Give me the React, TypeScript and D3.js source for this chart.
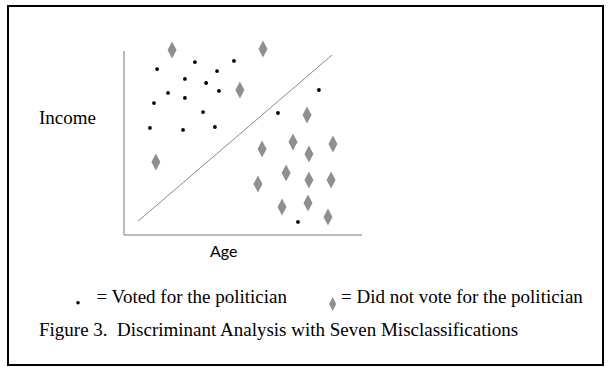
import React from "react";
import * as d3 from "d3";

// Voted for the politician (dots): [age, income]
const votedAge = [2.98, 4.62, 1.39, 3.91, 2.56, 3.45, 3.99, 1.85, 2.56, 1.26, 3.32, 1.09, 2.48, 3.82, 6.47, 8.19, 7.31];
const votedIncome = [9.40, 9.46, 9.02, 8.91, 8.48, 8.26, 7.83, 7.72, 7.45, 7.17, 6.68, 5.82, 5.71, 5.87, 6.63, 7.88, 0.71];

// Did not vote (diamonds): [age, income]
const notVotedAge = [2.02, 5.84, 4.87, 1.34, 7.69, 5.80, 7.10, 7.77, 8.78, 6.81, 5.63, 7.77, 8.70, 6.64, 7.73, 8.57];
const notVotedIncome = [10.05, 10.11, 7.88, 3.97, 6.52, 4.67, 5.05, 4.40, 4.95, 3.37, 2.77, 2.99, 2.99, 1.52, 1.74, 0.98];

// Discriminant line endpoints
const lineAge = [0.6, 8.74];
const lineIncome = [0.76, 9.78];

const xDomain = [0, 10];
const yDomain = [0, 10];

const xLabel = "Age";
const yLabel = "Income";
const legendVoted = "= Voted for the politician";
const legendNotVoted = "= Did not vote for the politician";
const caption = "Figure 3.  Discriminant Analysis with Seven Misclassifications";

const diamondPath = (w: number, h: number) => {
  const p = d3.path();
  p.moveTo(0, -h / 2);
  p.lineTo(w / 2, 0);
  p.lineTo(0, h / 2);
  p.lineTo(-w / 2, 0);
  p.closePath();
  return p.toString();
};

export default function App() {
  const W = 608;
  const H = 367;
  const x = d3.scaleLinear().domain(xDomain).range([124, 362]);
  const y = d3.scaleLinear().domain(yDomain).range([235, 51]);

  const lineGen = d3
    .line<number>()
    .x((_, i) => x(lineAge[i]))
    .y((_, i) => y(lineIncome[i]));

  const serif = "'Liberation Serif', 'Times New Roman', serif";
  const diamondColor = "#8f8f8f";

  return (
    <svg
      width={W}
      height={H}
      style={{ position: "absolute", left: 0, top: 0, background: "#fff" }}
    >
      <rect x={8} y={6} width={595} height={359} fill="#fff" stroke="#000" strokeWidth={2} />

      {/* axes */}
      <line x1={x(0)} y1={y(0)} x2={x(0)} y2={y(10)} stroke="#a6a6a6" strokeWidth={1.5} />
      <line x1={x(0)} y1={y(0)} x2={x(10)} y2={y(0)} stroke="#a6a6a6" strokeWidth={1.5} />

      {/* discriminant line */}
      <path d={lineGen(lineAge) || ""} stroke="#8a8a8a" strokeWidth={1} fill="none" />

      {/* dots */}
      {votedAge.map((a, i) => (
        <circle key={"v" + i} cx={x(a)} cy={y(votedIncome[i])} r={1.9} fill="#000" />
      ))}

      {/* diamonds */}
      {notVotedAge.map((a, i) => (
        <path
          key={"n" + i}
          d={diamondPath(9, 17)}
          transform={`translate(${x(a)},${y(notVotedIncome[i])})`}
          fill={diamondColor}
        />
      ))}

      <text x={39} y={124} fontFamily={serif} fontSize={19} fill="#000">
        {yLabel}
      </text>
      <text x={210} y={257} fontFamily="Lato, 'Open Sans', sans-serif" fontSize={16} fill="#000">
        {xLabel}
      </text>

      {/* legend */}
      <circle cx={78} cy={302.7} r={1.8} fill="#000" />
      <text x={96.5} y={303} fontFamily={serif} fontSize={19} fill="#000">
        {legendVoted}
      </text>
      <path d={diamondPath(7, 14)} transform="translate(332.7,304)" fill={diamondColor} />
      <text x={341} y={303} fontFamily={serif} fontSize={19} fill="#000">
        {legendNotVoted}
      </text>

      <text x={39} y={336} fontFamily={serif} fontSize={19} fill="#000" style={{ whiteSpace: "pre" }}>
        {caption}
      </text>
    </svg>
  );
}
